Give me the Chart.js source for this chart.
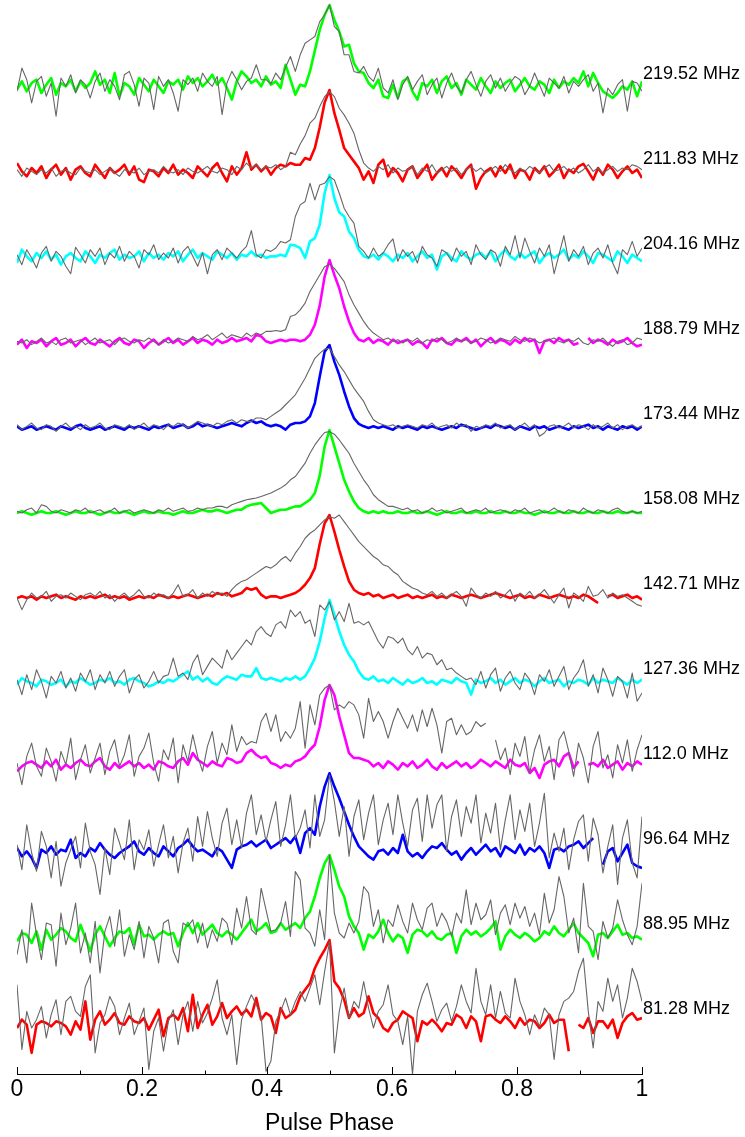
<!DOCTYPE html>
<html>
<head>
<meta charset="utf-8">
<script src="https://cdn.jsdelivr.net/npm/chart.js@4/dist/chart.umd.min.js"></script>
<style>
  html, body { margin: 0; padding: 0; background: #ffffff; }
  #wrap { width: 745px; height: 1137px; position: relative; }
</style>
</head>
<body>
<div id="wrap"><canvas id="profiles"></canvas></div>
<script>
// Observing frequencies, bottom profile first
const freqLabels = ['81.28 MHz', '88.95 MHz', '96.64 MHz', '112.0 MHz', '127.36 MHz', '142.71 MHz',
  '158.08 MHz', '173.44 MHz', '188.79 MHz', '204.16 MHz', '211.83 MHz', '219.52 MHz'];
const traceColours = ['#ff0000', '#00ff00', '#0000ff', '#ff00ff', '#00ffff', '#ff0000',
  '#00ff00', '#0000ff', '#ff00ff', '#00ffff', '#ff0000', '#00ff00'];
const phaseTicks = [0, 0.2, 0.4, 0.6, 0.8, 1];

// Profile intensities in percent of peak, 129 phase bins from 0 to 1
const trace219_52 = [
  -2, 8, -4, 6, 10, -6, 4, 12, -8, 6, 2, 10, -4, 8, 0, 6,
  20, 4, 10, -6, 18, -10, 6, 2, -8, 12, 4, -4, 10, 2, -6, 8,
  4, 10, -2, 14, 6, 12, 2, 8, 16, 4, 12, 0, -14, 8, 20, 14,
  6, 10, 2, 14, 4, 8, 0, 28, 10, -8, 4, 2, 20, 45, 70, 88,
  100, 82, 68, 50, 52, 30, 20, 18, 6, 0, 10, -10, -12, 4, -12, 8,
  12, -4, -14, 6, 2, 10, -6, 8, 14, 0, 6, -8, 10, 4, -2, 12,
  2, -6, 8, 0, 6, 10, -4, 4, 12, 2, -2, 8, 4, -6, 10, 0,
  8, 4, 12, 6, 20, 2, 18, 6, -4, -8, -12, -6, 2, -2, 8, -10,
  8];
const grey219_52 = [
  -4, 24, 10, -18, 8, 14, -10, 6, -34, 12, 2, 16, -6, 10, 4, -12,
  8, 18, -4, 10, 2, -14, 16, 20, 4, -22, 12, 6, -26, 14, 2, 10,
  -6, -28, 10, 4, 12, -4, 18, 8, 2, 14, -32, 6, 20, 10, -2, 8,
  12, 28, 10, 10, 5, 18, 10, 25, 38, 20, 40, 54, 58, 62, 80, 88,
  100, 74, 68, 40, 40, 20, 18, 26, 14, 8, 24, 0, -6, 10, -14, 4,
  14, -2, 8, 16, -8, 4, 12, -12, 6, 18, 2, -6, 10, 20, 4, -10,
  8, 16, 0, 12, -4, 6, 14, 10, -8, 2, 18, 4, -10, 12, 6, 0,
  14, -6, 8, 2, 10, 16, -4, 6, -30, 0, -8, 4, 10, -28, 8, 6,
  -4];

const trace211_83 = [
  12, 2, -4, 6, 0, 8, -6, 4, 10, -2, 6, -8, 4, 8, 0, -4,
  10, 2, -6, 6, 0, 4, 10, -2, 8, -8, -11, 4, 2, -4, 6, 0,
  10, -2, 4, 0, -6, 8, 2, -4, 6, 12, 0, -10, 8, -2, 6, 25,
  4, 10, 2, 8, -2, 6, 10, 8, 12, 10, 10, 18, 16, 30, 55, 85,
  100, 72, 52, 30, 22, 14, 6, -8, 2, -12, 10, 16, -4, 6, 0, -10,
  4, 8, -6, 2, 10, -8, 0, 6, -4, 8, 2, -6, 4, 10, -19, -6,
  2, 6, -4, 8, 0, 10, -6, 4, 2, -8, 6, 0, 8, -4, 2, 10,
  -6, 4, 0, 8, 11, 2, -8, 6, -2, 10, 4, -6, 2, 8, 0, 4,
  -6];
const grey211_83 = [
  4, -4, 6, 2, -2, 4, 0, 6, -4, 2, 4, 0, -2, 6, 2, 0,
  4, -2, 2, 6, 0, -4, 4, 2, 0, 6, -2, 2, 4, 0, 8, 2,
  0, 4, -2, 6, 2, 0, 4, 8, 2, 0, 6, 4, -2, 8, 4, 12,
  6, 10, 4, 8, 6, 10, 4, 8, 25, 22, 35, 45, 60, 66, 80, 92,
  98, 92, 78, 70, 60, 48, 28, 12, 6, 2, 8, 4, 10, 0, 6, 2,
  4, 8, -2, 6, 2, 10, 0, 4, 8, 2, 6, -2, 4, 8, 2, 6,
  0, 4, 8, 2, 10, 4, 0, 6, 2, 8, 4, 0, 6, 10, 2, 4,
  8, 2, 6, 0, 4, 10, 2, 6, 0, 4, 8, 2, 6, 4, 10, 8,
  4];

const trace204_16 = [
  -6, 10, 2, -4, 6, 0, 8, -2, 4, -8, 2, 6, 0, -4, 8, 2,
  -6, 4, 0, 6, 10, -2, 4, 0, 2, 8, -4, 6, 0, 4, -2, 6,
  2, 8, -4, 4, 10, 0, 6, 2, -2, 8, 4, 0, 6, -2, 4, 2,
  8, 2, 4, 0, 2, 2, 4, 2, 16, 15, 12, 0, 20, 24, 40, 78,
  100, 72, 55, 50, 32, 24, 10, 2, 0, 4, -2, 6, 2, -4, 4, 0,
  6, -4, 2, 8, 0, 4, -14, 2, 6, 0, -4, 8, 2, -2, 4, 6,
  0, 8, -4, 4, 10, 2, -2, 6, 0, 4, 8, -6, 2, 6, 0, 4,
  10, -2, 4, 0, 8, 2, -6, 6, 4, 0, -4, 8, 2, -6, 4, 0,
  -4];
const grey204_16 = [
  4, -8, 10, 0, -12, 6, 14, -4, 8, 2, -10, -19, 13, 4, -6, 10,
  2, 12, -8, 6, 0, 14, -4, 8, 2, -12, 10, 4, 16, -2, 6, 0,
  12, -6, 8, 14, 2, -10, 6, -19, 4, 10, -2, 12, 6, 0, 8, 14,
  33, 4, 0, 10, 8, 12, 20, 18, 22, 50, 64, 68, 90, 70, 88, 90,
  98, 94, 78, 60, 50, 42, 14, 8, 0, 12, 2, 6, 16, 23, -4, 10,
  2, 8, -6, 14, 4, 0, -10, 10, 6, -4, 12, 2, 8, -8, 16, 4,
  -2, 10, 6, -10, 14, 4, 27, 0, 24, 8, -6, 12, 2, 16, -19, 4,
  27, -4, 10, 2, 14, -8, 6, 12, 0, 16, -6, -19, 10, 4, 20, 2,
  12];

const trace188_79 = [
  -2, 4, -6, 2, 0, 4, -4, 2, 6, -2, 0, 4, -4, 2, 6, 0,
  -2, 4, 0, -4, 2, 6, 0, -2, 4, 2, -6, 0, 4, -2, 2, 6,
  0, 4, -2, 2, 6, 0, 4, 2, -2, 4, 0, 2, 6, 2, 4, 6,
  2, 10, 8, 2, 0, 2, 4, 2, 4, 4, 2, 4, 10, 22, 45, 80,
  100, 82, 66, 44, 26, 12, 4, 2, 6, 0, 4, 2, -2, 4, 0, 2,
  4, -2, 2, 0, -6, 4, 2, 6, 0, -2, 4, 2, 6, 0, 4, -4,
  2, 6, 0, 4, 2, -2, 4, 0, 6, 2, 4, -12, 2, 4, 0, 6,
  2, 4, -2, 0, null, 6, 0, 4, 2, -2, 4, 0, 2, 6, 0, -4,
  -2];
const grey188_79 = [
  2, 0, 4, -2, 2, 6, 0, 2, -2, 4, 6, 0, 2, 4, -2, 2,
  6, 0, 2, 4, -2, 4, 6, 2, 0, 4, 2, 6, 2, -2, 4, 0,
  2, 6, 4, 2, 8, 4, 6, 10, 4, 8, 12, 6, 10, 8, 6, 12,
  8, 12, 10, 14, 14, 15, 14, 16, 32, 34, 40, 48, 62, 72, 82, 92,
  95, 90, 82, 74, 58, 46, 36, 26, 18, 12, 8, 4, 6, 2, 4, 0,
  4, 2, 6, 0, 4, 2, 6, 4, 0, 2, 6, 2, 4, 0, 2, 6,
  4, 0, 2, 6, 4, 2, 8, 4, 2, 6, 4, 0, 2, 4, 6, 2,
  0, 4, 2, 6, 0, -2, 4, 2, 6, 0, -4, 2, 4, -2, 0, 6,
  4];

const trace173_44 = [
  2, -2, 0, 2, -2, 0, 2, 0, -2, 2, 0, -2, 2, 4, 0, -2,
  0, 2, -2, 0, 2, 0, -2, 2, 0, 2, 0, -2, 2, 0, 2, 4,
  0, 2, 4, 0, 2, 6, 2, 4, 2, 0, 2, 4, 6, 4, 2, 6,
  9, 6, 8, 4, 2, 4, 2, -2, 4, 6, 6, 8, 14, 30, 62, 92,
  100, 80, 64, 44, 26, 12, 5, 2, 0, 2, 0, 2, 0, -2, 2, 0,
  2, 0, -2, 2, 0, 2, 0, -2, 0, 2, 0, 4, 2, 0, -2, 0,
  2, 0, 4, 2, 0, 2, -2, 2, 0, -2, 2, 0, 2, -2, 0, 2,
  0, -2, 2, 0, 2, 4, 0, 2, -2, 2, 0, -2, 2, 0, 2, -2,
  2];
const grey173_44 = [
  4, -2, 2, 6, 0, -2, 4, 2, -4, 2, 6, 0, 2, -2, 4, 0,
  2, 6, 0, -2, 4, 2, 0, 4, -2, 2, 6, 0, 4, 2, -2, 4,
  2, 6, 4, 0, 4, 8, 6, 4, 2, 6, 4, 8, 10, 6, 10, 8,
  8, 12, 12, 10, 14, 18, 22, 28, 34, 40, 50, 60, 72, 84, 90, 95,
  96, 86, 76, 68, 58, 48, 40, 32, 20, 10, 6, 4, 2, 4, 0, 2,
  4, 2, 0, 4, 2, 6, 0, 2, 4, 0, 6, 2, 4, -4, 2, 0,
  4, 2, 6, 0, 2, 4, -2, 2, 6, 0, 4, -10, -6, 2, 4, 0,
  2, 6, 0, 4, 2, -2, 4, 0, 2, 6, 0, 4, -2, 2, 4, 0,
  2];

const trace158_08 = [
  0, 2, 0, -2, 0, 2, 0, 0, 2, 0, -2, 0, 2, 0, 0, 2,
  0, -2, 0, 2, 0, 0, 2, 0, -2, 0, 2, 0, 0, 2, 0, 0,
  -2, 0, 2, 0, 0, 2, 4, 2, 2, 4, 2, 0, 2, 4, 4, 8,
  10, 11, 12, 6, 0, 2, 4, 4, 6, 8, 8, 12, 16, 24, 45, 80,
  100, 80, 60, 40, 26, 14, 6, 2, 0, 2, 0, 2, 0, 0, 2, 0,
  0, 2, 0, 0, 2, 0, -2, 0, 2, 0, 0, 2, 0, 0, 2, 0,
  0, 2, 0, 0, 2, 0, 0, 2, 0, 0, -2, 0, 2, 0, 0, 2,
  0, 0, 2, 0, 0, 2, 0, 0, 2, 0, 0, 2, 0, 0, 2, 0,
  0];
const grey158_08 = [
  2, 0, 4, 6, 0, 10, 8, 2, 0, 4, 2, 0, 4, 2, 6, 0,
  2, 4, 0, 2, 6, 0, 2, 4, 0, 2, 4, 2, 0, 4, 2, 6,
  2, 4, 6, 2, 3, 6, 4, 6, 6, 8, 8, 6, 10, 12, 14, 16,
  17, 18, 20, 22, 24, 27, 30, 34, 40, 44, 52, 60, 72, 82, 90, 97,
  98, 95, 88, 80, 72, 60, 50, 40, 32, 22, 16, 12, 8, 8, 6, 4,
  6, 2, 4, 0, 2, 6, 2, 4, 0, 2, 4, 6, 0, 2, 4, 2,
  6, 0, 2, 4, 2, 0, 4, 2, 6, 0, 2, 4, 0, 2, 6, 2,
  0, 4, 2, 0, 6, 2, 0, 4, 2, 0, 4, 6, 2, 0, 2, 0,
  2];

const trace142_71 = [
  0, 2, 0, 2, -2, 2, 0, 2, 4, 0, 2, 0, -2, 2, 0, 2,
  0, 2, 4, 0, 2, 0, 2, -2, 0, 2, 0, 2, 0, 4, 2, 0,
  2, 0, 2, 4, 2, 0, 2, 4, 2, 6, 4, 6, 2, 4, 6, 12,
  10, 12, 4, 0, 2, 2, 0, 2, 4, 6, 10, 16, 24, 36, 65, 90,
  100, 80, 58, 38, 20, 10, 6, 4, 6, 2, 4, 0, 2, 4, 0, 2,
  4, 0, 2, 0, 2, 4, 0, 2, 0, 4, 2, 0, 2, 4, 2, 0,
  2, 4, 6, 4, 2, 0, 2, 4, 0, 2, 0, 4, 2, 0, 2, 4,
  2, 0, 2, 0, 4, 2, -2, -6, null, 2, 4, 0, 2, 4, 0, 2,
  -2];
const grey142_71 = [
  0, -14, -2, 6, 0, 2, 8, -4, 2, 4, 0, 6, 2, -2, 4, 6,
  2, 8, 0, 4, -4, 2, 6, 0, 4, 10, 2, 0, 6, 2, 4, 0,
  6, 16, 2, 4, 10, 0, 6, 2, 8, 4, 6, 2, 10, 16, 20, 22,
  26, 30, 34, 38, 36, 40, 46, 50, 44, 54, 62, 72, 78, 82, 88, 94,
  98, 96, 100, 92, 84, 76, 68, 62, 56, 50, 46, 40, 38, 32, 28, 20,
  16, 12, 10, 6, 4, 8, 2, 6, 0, 4, 8, 2, -10, 12, 4, 0,
  6, 2, 8, 0, 4, 10, -4, 6, 2, 8, 0, 4, 10, 2, -6, 4,
  12, -12, 6, 2, -4, 14, 2, 4, 10, 0, 6, 2, 4, 0, -4, -8,
  -10];

const trace127_36 = [
  -2, 6, 2, 0, -4, 4, 2, -2, 0, 4, -4, 2, 0, 6, 2, -2,
  0, 4, 2, 6, 0, 2, -2, 4, 6, 2, 0, -4, -2, 2, 0, 4,
  2, 6, 10, 14, 4, 8, 2, 6, 0, -2, 4, 8, 6, 4, 10, 8,
  8, 18, 6, 4, 6, 4, 2, 6, 4, 8, 4, 8, 18, 30, 50, 78,
  100, 82, 62, 46, 34, 26, 14, 6, 4, 8, 2, 4, 0, 6, 2, -2,
  4, 0, 2, 6, 0, 2, -2, 4, 2, 0, 6, 2, 0, -14, 4, 0,
  2, 6, 0, 4, -2, 2, 6, 0, 4, 2, -4, 2, 6, 0, 2, 4,
  -4, 2, 0, 4, 2, -2, 6, 0, 4, 2, 0, 6, 2, -2, 4, 0,
  4];
const grey127_36 = [
  4, -14, 10, -8, 16, 2, -18, 8, 0, 14, -6, 6, -10, 12, 2, 16,
  -8, 10, 0, 14, -4, 8, 16, -12, 4, 10, -6, 2, 14, 0, 8, 10,
  30, 8, 12, 4, 24, 34, 10, 20, 30, 24, 18, 40, 28, 36, 44, 52,
  46, 62, 68, 60, 56, 70, 74, 66, 88, 80, 86, 72, 76, 56, 94, 88,
  98, 76, 86, 74, 96, 72, 74, 70, 74, 62, 50, 42, 56, 54, 48, 54,
  40, 34, 44, 30, 36, 34, 22, 28, 16, 18, 12, 8, 4, 6, -2, 14,
  -6, 10, 18, -10, 6, 14, 0, -8, 12, 4, -14, 10, 2, 16, -4, 8,
  20, -8, 6, 14, 28, -4, 10, -12, 18, 4, -16, 8, 2, -18, 12, -22,
  -12];

const trace112_0 = [
  -4, 2, 6, 8, 4, 0, 8, 2, 10, -2, 4, 0, 6, 10, 4, 2,
  8, 12, 2, -2, 6, 0, 4, 8, 2, 6, 0, 4, -2, 8, 6, 2,
  0, 8, 12, 4, 18, 10, 6, 2, 8, 4, 2, 12, 10, 6, 8, 18,
  22, 16, 12, 14, 6, 4, 0, 4, 2, 8, 10, 14, 22, 28, 50, 82,
  100, 88, 62, 40, 18, 12, 12, 10, 8, 2, 6, 0, 8, 4, -2, 6,
  2, 8, 0, 4, 10, 2, -2, 6, 0, 4, 8, 2, 6, 0, 4, 10,
  6, 2, 8, 4, 0, 10, 4, 2, 6, -6, 0, -12, 4, 8, 10, 2,
  14, 18, 0, 8, null, 4, 6, 2, 10, 0, 4, 8, -2, 6, 2, 8,
  4];
const grey112_0 = [
  6, -20, 14, 30, 2, -10, 24, 8, -16, 20, 4, 36, -14, 10, 28, -6,
  12, 30, -8, 20, 34, 2, 16, 40, -10, 14, 24, 42, 6, -16, 22, 10,
  36, -18, 28, 8, 40, 14, -4, 26, 44, 6, 30, 16, 52, 20, 38, 28,
  32, 30, 56, 66, 44, 64, 32, 44, 36, 48, 80, 24, 76, 52, 88, 96,
  100, 70, 76, 72, 80, 76, 64, 36, 84, 56, 68, 56, 36, 56, 72, 60,
  48, 64, 44, 70, 50, 72, 52, 18, 56, 60, 40, 52, 40, 44, 56, 50,
  54, null, 34, 10, 24, -8, 30, 14, 38, -6, 22, 40, 8, 26, -14, 34,
  44, 20, -10, 30, 12, -18, 26, 44, 0, 16, -12, 28, 6, 34, -4, 22,
  40];

const trace96_64 = [
  6, -4, 2, -6, -18, 4, 0, 8, -2, 4, 2, 16, -6, 0, -4, 6,
  2, 12, 4, -2, -6, 0, 4, 8, 14, 2, -2, 6, 0, -4, 8, 2,
  -4, 6, 10, 16, 8, 2, 4, 0, -4, 6, 2, -8, -18, 4, 8, 10,
  14, 8, 12, 16, 6, 10, 14, 18, 12, 20, 0, 24, 30, 22, 56, 80,
  96, 80, 66, 50, 34, 20, 8, 2, -4, -8, 2, 4, -2, 6, 0, 22,
  2, -4, 0, -6, 2, 8, 6, 12, 4, -2, 2, -8, 0, 6, -2, 4,
  10, 2, 6, -4, 8, 4, 0, 10, -2, 6, 2, 8, 0, -18, 4, 6,
  2, 8, 10, 14, 6, 12, 18, null, -14, 2, 6, -10, 0, 10, -12, -16,
  -18];
const grey96_64 = [
  10, -20, 34, 0, -22, 26, 8, -30, 14, -40, -12, 4, 20, -18, 36, 2,
  -14, -50, 6, -26, 30, 12, -8, 40, -20, 16, 4, 28, -16, 10, 34, -6,
  20, -24, 12, 30, -10, 44, 8, 50, 18, -4, 36, 54, 10, 40, 6, 48,
  70, 22, 46, 14, 40, 62, 8, 34, 70, 18, 30, 52, 6, 70, 20, 40,
  94, 62, 20, 56, -4, 44, 64, 16, 48, 70, 10, 40, 60, 22, 70, 36,
  8, 52, 66, 14, 70, 30, 58, 70, 2, 44, 64, 20, 56, 36, 70, 12,
  48, 24, 60, 4, 40, 70, 16, 52, 26, 60, 8, 36, 72, -6, 24, 2,
  30, -20, 16, 38, 46, -10, 42, 22, -24, 8, 34, -38, 18, 40, -12, -30,
  44];

const trace88_95 = [
  -4, 6, 4, -6, 8, -14, 10, -2, 4, 12, 8, 0, -4, 16, 0, -16,
  4, 14, 2, -10, 0, 8, 6, 12, -8, 16, 2, 4, -2, 4, 8, 4,
  6, -10, 6, 18, 6, 18, 4, 10, 16, 6, 2, 8, 4, -2, 6, 14,
  22, 8, 12, 18, 6, 8, 18, 10, 14, 18, 12, 24, 32, 50, 72, 90,
  100, 82, 62, 50, 26, 14, 6, -14, 4, 0, 8, 22, 6, -4, 4, 0,
  -18, 4, 10, 8, 2, 8, 0, -2, 4, 6, -18, 2, 10, 4, 8, 2,
  6, 12, 20, -14, 2, 10, 4, 0, 6, 2, -4, 0, 8, 4, 14, 6,
  2, 10, 18, 6, 0, -6, -22, 4, 6, 0, 8, 16, 4, 6, 0, 2,
  -2];
const grey88_95 = [
  -20, 10, -30, 42, 4, -26, 18, 16, -34, 30, -8, 12, 42, -18, 6, -30,
  20, -42, 8, 26, -10, 34, -22, 4, -14, 20, -24, 14, 0, -30, 18, 22,
  -16, -30, 18, 14, 22, -6, 18, -12, 10, -4, 24, 18, -8, 36, 12, 50,
  10, 4, 60, 34, 8, 10, 18, 44, 2, 80, 70, 12, 6, -10, 34, -2,
  100, 30, 6, 0, 18, 6, 20, 62, 54, 14, 34, -6, 22, 14, 40, 20,
  6, 42, 22, 10, 36, 42, 14, 30, 20, 2, 30, 18, 58, 16, 42, 22,
  28, 46, 4, 30, 40, 16, 42, 24, 38, 14, 30, 4, 54, 18, 34, 74,
  50, 6, 24, -18, 66, 14, 8, -26, 20, 0, 12, 46, 22, 4, -8, 14,
  66];

const trace81_28 = [
  -6, 4, -2, -36, -2, 2, 0, -4, 2, 0, -4, -14, 2, -8, 26, -20,
  4, 14, -2, 4, 12, 0, -2, 8, 2, 0, 6, -8, 4, 16, -16, 6,
  10, 4, 18, -10, 34, -6, 10, 22, -2, 8, 24, 6, 14, 20, 10, 16,
  8, 30, 4, 12, 8, -12, 18, 6, 10, 16, 32, 40, 48, 66, 78, 88,
  100, 50, 42, 28, 6, 18, 8, 12, 32, 12, 6, -6, -10, 0, 4, 14,
  10, 6, -22, 2, -2, 4, -2, -10, 0, -2, 10, 6, -6, 8, 2, -22,
  8, 10, 4, 0, 8, 2, -6, 6, -2, 4, 2, -6, 0, 10, 0, 4,
  4, -34, null, -2, -6, 6, -12, 2, 2, -6, 4, -18, 0, 8, 12, 4,
  6];
const grey81_28 = [
  46, -32, 14, -6, 4, 20, -18, 10, 28, -14, 26, 32, 14, 8, 44, 58,
  -36, 0, 10, 32, 20, -14, 6, 24, -14, 2, 18, -56, -10, 6, -34, 2,
  16, -26, 10, 26, -10, 26, 0, 12, 30, 52, 6, -14, 10, -50, 4, 20,
  34, 22, 8, -58, -46, 2, 14, 30, 10, 26, 38, 26, 42, 58, 22, 62,
  98, -36, 14, 42, 6, 26, 18, 50, 18, -6, 14, 22, 46, 10, 2, -26,
  8, -62, 14, 34, 48, 26, 2, 16, 24, 2, 20, 46, 26, 12, 66, 26,
  10, 46, 6, 38, 12, 6, 54, 26, 10, -14, 10, -4, 18, 10, -44, 10,
  26, 30, 38, 62, 78, 14, -30, 26, 14, 54, 26, 46, 6, 30, 66, 50,
  26];

// Bottom to top, same order as freqLabels
const traces = [trace81_28, trace88_95, trace96_64, trace112_0, trace127_36, trace142_71,
  trace158_08, trace173_44, trace188_79, trace204_16, trace211_83, trace219_52];
const greys = [grey81_28, grey88_95, grey96_64, grey112_0, grey127_36, grey142_71,
  grey158_08, grey173_44, grey188_79, grey204_16, grey211_83, grey219_52];

// Vertical stacking: each profile sits one offset step above the previous one
const OFFSET_STEP = 85 / 83;
const LABEL_LIFT = 0.17;
const Y_MIN = -51 / 83;
const Y_MAX = Y_MIN + 1074 / 83;

function toPoints(values, k) {
  const last = values.length - 1;
  return values.map((v, i) => ({ x: i / last, y: v === null ? null : k * OFFSET_STEP + v / 100 }));
}

const datasets = [];
traces.forEach((vals, k) => {
  datasets.push({
    label: freqLabels[k] + ' (grey)',
    data: toPoints(greys[k], k),
    borderColor: '#666666',
    borderWidth: 1.1,
    order: 0
  });
  datasets.push({
    label: freqLabels[k],
    data: toPoints(vals, k),
    borderColor: traceColours[k],
    borderWidth: 2.6,
    order: 1
  });
});

// Inward tick marks on the phase axis and the frequency tags at the right
const decorations = {
  id: 'decorations',
  afterDraw(chart) {
    const { ctx, chartArea } = chart;
    const xs = chart.scales.x;
    const ys = chart.scales.y;
    ctx.save();
    ctx.strokeStyle = '#000000';
    ctx.lineWidth = 1;
    for (let i = 0; i <= 10; i++) {
      const px = Math.round(xs.getPixelForValue(i / 10)) + 0.5;
      const len = i % 2 === 0 ? 7 : 3.5;
      ctx.beginPath();
      ctx.moveTo(px, chartArea.bottom);
      ctx.lineTo(px, chartArea.bottom - len);
      ctx.stroke();
    }
    ctx.fillStyle = '#000000';
    ctx.font = '18px "Liberation Sans", Arial, Helvetica, sans-serif';
    ctx.textAlign = 'left';
    ctx.textBaseline = 'middle';
    freqLabels.forEach((t, k) => {
      ctx.fillText(t, xs.getPixelForValue(1) + 1, ys.getPixelForValue(k * OFFSET_STEP + LABEL_LIFT));
    });
    ctx.restore();
  }
};

new Chart(document.getElementById('profiles'), {
  type: 'line',
  data: { datasets },
  options: {
    responsive: true,
    maintainAspectRatio: false,
    animation: false,
    events: [],
    spanGaps: false,
    elements: {
      point: { radius: 0, hitRadius: 0 },
      line: { tension: 0, borderJoinStyle: 'round', borderCapStyle: 'butt', fill: false }
    },
    layout: { padding: { left: 17, right: 103, top: 0, bottom: 0 } },
    scales: {
      x: {
        type: 'linear',
        min: 0,
        max: 1,
        afterFit(scale) { scale.height = 63; },
        afterBuildTicks(scale) { scale.ticks = phaseTicks.map(v => ({ value: v })); },
        grid: { display: false, drawTicks: false },
        border: { display: true, color: '#000000', width: 1 },
        ticks: {
          color: '#000000',
          padding: 2,
          maxRotation: 0,
          autoSkip: false,
          font: { family: '"Liberation Sans", Arial, Helvetica, sans-serif', size: 23 },
          callback: v => String(+Number(v).toFixed(1))
        },
        title: {
          display: true,
          text: 'Pulse Phase',
          color: '#000000',
          font: { family: '"Liberation Sans", Arial, Helvetica, sans-serif', size: 23 },
          padding: { top: 0, bottom: 0 }
        }
      },
      y: {
        type: 'linear',
        display: false,
        min: Y_MIN,
        max: Y_MAX
      }
    },
    plugins: {
      legend: { display: false },
      tooltip: { enabled: false },
      title: { display: false }
    }
  },
  plugins: [decorations]
});
</script>
</body>
</html>
